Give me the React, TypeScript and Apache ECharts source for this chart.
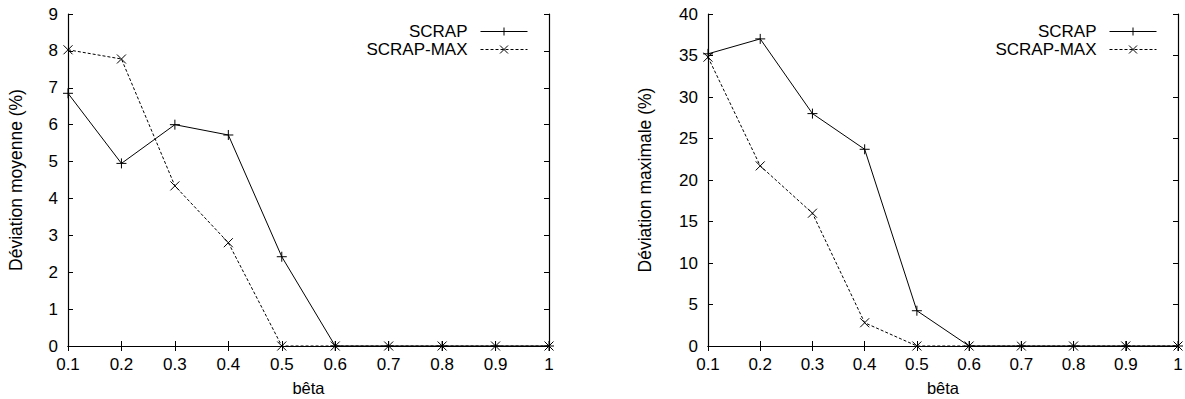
import React, { useEffect, useRef } from "react";
import * as echarts from "echarts";

const betaLabels = ["0.1", "0.2", "0.3", "0.4", "0.5", "0.6", "0.7", "0.8", "0.9", "1"];
const moyScrap = [6.85, 4.95, 6.0, 5.72, 2.42, 0, 0, 0, 0, 0];
const moyScrapMax = [8.03, 7.78, 4.34, 2.8, 0, 0, 0, 0, 0, 0];
const maxScrap = [35.2, 37.0, 28.0, 23.7, 4.25, 0, 0, 0, 0, 0];
const maxScrapMax = [34.8, 21.7, 16.0, 2.8, 0, 0, 0, 0, 0, 0];
const seriesNames = ["SCRAP", "SCRAP-MAX"];

const FONT = "Liberation Sans, Arial, sans-serif";
const PLUS = "path://M5,0L5,10M0,5L10,5";
const CROSS = "path://M0,0L10,10M10,0L0,10";

export default function App() {
  const ref = useRef<HTMLDivElement>(null);
  useEffect(() => {
    if (!ref.current) return;
    const chart = echarts.init(ref.current, null, { renderer: "svg" });
    const axisLine = { show: true, lineStyle: { color: "#000", width: 1.2 } };
    const tick = { show: true, inside: true, length: 5, lineStyle: { color: "#000", width: 1 } };
    const label = { color: "#000", fontSize: 17, fontFamily: FONT };
    const nameStyle = { color: "#000", fontSize: 17.5, fontFamily: FONT };
    const xBottom = (grid: number) => ({
      type: "category",
      gridIndex: grid,
      data: betaLabels,
      boundaryGap: false,
      position: "bottom",
      axisLine,
      axisTick: { ...tick, interval: 0 },
      axisLabel: { ...label, interval: 0, margin: 10 },
      splitLine: { show: false },
      name: "bêta",
      nameLocation: "middle",
      nameGap: 33,
      nameTextStyle: { ...nameStyle, fontSize: 16.5, lineHeight: 18 },
    });
    const xTop = (grid: number) => ({
      type: "category",
      gridIndex: grid,
      data: betaLabels,
      boundaryGap: false,
      position: "top",
      axisLine,
      axisTick: { ...tick, interval: 0 },
      axisLabel: { show: false },
      splitLine: { show: false },
    });
    const yLeft = (grid: number, max: number, interval: number, name: string, gap: number) => ({
      type: "value",
      gridIndex: grid,
      min: 0,
      max,
      interval,
      position: "left",
      axisLine,
      axisTick: tick,
      axisLabel: { ...label, margin: 10 },
      splitLine: { show: false },
      name,
      nameLocation: "middle",
      nameRotate: 90,
      nameGap: gap,
      nameTextStyle: nameStyle,
    });
    const yRight = (grid: number, max: number, interval: number) => ({
      type: "value",
      gridIndex: grid,
      min: 0,
      max,
      interval,
      position: "right",
      axisLine,
      axisTick: tick,
      axisLabel: { show: false },
      splitLine: { show: false },
    });
    const mkSeries = (name: string, data: number[], xi: number, yi: number, dashed: boolean) => ({
      type: "line",
      name,
      data,
      xAxisIndex: xi,
      yAxisIndex: yi,
      clip: false,
      symbol: dashed ? CROSS : PLUS,
      symbolSize: dashed ? 9 : 10,
      showSymbol: true,
      lineStyle: { color: "#000", width: 1, type: dashed ? [3, 2] : "solid" },
      itemStyle: { color: "none", borderColor: "#000", borderWidth: 1 },
      emphasis: { disabled: true },
    });
    const mkLegend = (name: string, right: number, top: number) => ({
      data: [name],
      right,
      top,
      orient: "horizontal",
      align: "right",
      padding: 0,
      itemWidth: 47,
      itemHeight: 10,
      selectedMode: false,
      lineStyle: { width: 1 },
      itemStyle: { borderWidth: 1 },
      textStyle: { color: "#000", fontSize: 17, fontFamily: FONT, padding: [0, 8, 0, 0] },
    });
    chart.setOption({
      animation: false,
      backgroundColor: "#fff",
      grid: [
        { left: 68, top: 14, width: 481, height: 332, containLabel: false, outerBoundsMode: "none" },
        { left: 708, top: 14, width: 470, height: 332, containLabel: false, outerBoundsMode: "none" },
      ],
      xAxis: [xBottom(0), xTop(0), xBottom(1), xTop(1)],
      yAxis: [
        yLeft(0, 9, 1, "Déviation moyenne (%)", 43),
        yRight(0, 9, 1),
        yLeft(1, 40, 5, "Déviation maximale (%)", 54),
        yRight(1, 40, 5),
      ],
      legend: [
        mkLegend(seriesNames[0], 657, 23),
        mkLegend(seriesNames[1], 657, 41),
        mkLegend(seriesNames[0], 28, 23),
        mkLegend(seriesNames[1], 28, 41),
      ],
      series: [
        mkSeries(seriesNames[0], moyScrap, 0, 0, false),
        mkSeries(seriesNames[1], moyScrapMax, 0, 0, true),
        mkSeries(seriesNames[0], maxScrap, 2, 2, false),
        mkSeries(seriesNames[1], maxScrapMax, 2, 2, true),
      ],
    });
    return () => chart.dispose();
  }, []);
  return (
    <div
      ref={ref}
      style={{ position: "fixed", left: 0, top: 0, width: 1185, height: 399, background: "#fff" }}
    />
  );
}
